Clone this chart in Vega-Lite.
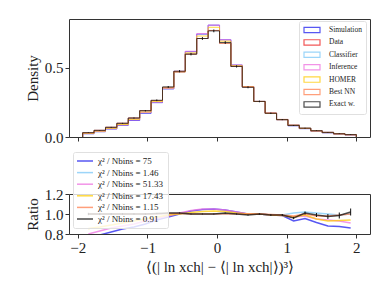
{
  "$schema": "https://vega.github.io/schema/vega-lite/v6.json",
  "background": "white",
  "padding": {"left": 24, "top": 18, "right": 19, "bottom": 5},
  "config": {
    "font": "Liberation Serif",
    "view": {"stroke": "#333333", "strokeWidth": 1},
    "axis": {"grid": false, "domain": false, "tickColor": "#333333", "tickSize": 4, "labelFont": "Liberation Serif", "labelFontSize": 15, "labelColor": "#222222", "titleFont": "Liberation Serif", "titleFontSize": 15, "titleFontWeight": "normal", "titleColor": "#222222", "labelPadding": 2, "labelOverlap": false},
    "axisY": {"labelOverlap": false},
    "axisQuantitative": {"labelOverlap": false},
    "legend": {"labelFont": "Liberation Serif", "labelColor": "#222222"}
  },
  "datasets": {
    "hist": [
      {"i": 0, "x": -1.93, "sim": 0, "data": 0, "cls": 0, "inf": 0, "homer": 0, "nn": 0, "exact": 0},
      {"i": 1, "x": -1.93, "sim": 0.0233, "data": 0.031, "cls": 0.031, "inf": 0.0248, "homer": 0.0265, "nn": 0.031, "exact": 0.031},
      {"i": 2, "x": -1.766, "sim": 0.0379, "data": 0.048, "cls": 0.048, "inf": 0.0398, "homer": 0.0418, "nn": 0.048, "exact": 0.048},
      {"i": 3, "x": -1.602, "sim": 0.0574, "data": 0.07, "cls": 0.07, "inf": 0.0602, "homer": 0.0623, "nn": 0.07, "exact": 0.07},
      {"i": 4, "x": -1.439, "sim": 0.0842, "data": 0.099, "cls": 0.099, "inf": 0.0871, "homer": 0.0901, "nn": 0.099, "exact": 0.099},
      {"i": 5, "x": -1.275, "sim": 0.1192, "data": 0.137, "cls": 0.137, "inf": 0.1233, "homer": 0.1274, "nn": 0.137, "exact": 0.137},
      {"i": 6, "x": -1.111, "sim": 0.171, "data": 0.19, "cls": 0.19, "inf": 0.1767, "homer": 0.1805, "nn": 0.19, "exact": 0.19},
      {"i": 7, "x": -0.947, "sim": 0.2482, "data": 0.264, "cls": 0.264, "inf": 0.2521, "homer": 0.2561, "nn": 0.264, "exact": 0.2653},
      {"i": 8, "x": -0.783, "sim": 0.3473, "data": 0.358, "cls": 0.3598, "inf": 0.3508, "homer": 0.3544, "nn": 0.3598, "exact": 0.3616},
      {"i": 9, "x": -0.62, "sim": 0.471, "data": 0.471, "cls": 0.4734, "inf": 0.4757, "homer": 0.471, "nn": 0.4734, "exact": 0.4757},
      {"i": 10, "x": -0.456, "sim": 0.617, "data": 0.599, "cls": 0.599, "inf": 0.62, "homer": 0.608, "nn": 0.599, "exact": 0.599},
      {"i": 11, "x": -0.292, "sim": 0.744, "data": 0.712, "cls": 0.712, "inf": 0.7476, "homer": 0.7298, "nn": 0.712, "exact": 0.712},
      {"i": 12, "x": -0.128, "sim": 0.8085, "data": 0.77, "cls": 0.77, "inf": 0.8085, "homer": 0.7931, "nn": 0.77, "exact": 0.767},
      {"i": 13, "x": 0.036, "sim": 0.703, "data": 0.676, "cls": 0.676, "inf": 0.703, "homer": 0.6929, "nn": 0.676, "exact": 0.6828},
      {"i": 14, "x": 0.199, "sim": 0.5202, "data": 0.51, "cls": 0.51, "inf": 0.5202, "homer": 0.5151, "nn": 0.51, "exact": 0.51},
      {"i": 15, "x": 0.363, "sim": 0.363, "data": 0.363, "cls": 0.363, "inf": 0.363, "homer": 0.363, "nn": 0.363, "exact": 0.3594},
      {"i": 16, "x": 0.527, "sim": 0.257, "data": 0.257, "cls": 0.257, "inf": 0.257, "homer": 0.257, "nn": 0.257, "exact": 0.257},
      {"i": 17, "x": 0.691, "sim": 0.1713, "data": 0.173, "cls": 0.1713, "inf": 0.1713, "homer": 0.1713, "nn": 0.1721, "exact": 0.1713},
      {"i": 18, "x": 0.855, "sim": 0.1251, "data": 0.127, "cls": 0.1257, "inf": 0.1251, "homer": 0.1251, "nn": 0.1257, "exact": 0.1257},
      {"i": 19, "x": 1.018, "sim": 0.0809, "data": 0.087, "cls": 0.0879, "inf": 0.0844, "homer": 0.0844, "nn": 0.0853, "exact": 0.0835},
      {"i": 20, "x": 1.182, "sim": 0.0602, "data": 0.063, "cls": 0.0643, "inf": 0.0617, "homer": 0.0624, "nn": 0.063, "exact": 0.0636},
      {"i": 21, "x": 1.346, "sim": 0.0421, "data": 0.046, "cls": 0.0465, "inf": 0.0437, "homer": 0.0437, "nn": 0.0451, "exact": 0.0455},
      {"i": 22, "x": 1.51, "sim": 0.0299, "data": 0.034, "cls": 0.034, "inf": 0.032, "homer": 0.0316, "nn": 0.0333, "exact": 0.0332},
      {"i": 23, "x": 1.674, "sim": 0.021, "data": 0.024, "cls": 0.0238, "inf": 0.0223, "homer": 0.0224, "nn": 0.0238, "exact": 0.0236},
      {"i": 24, "x": 1.837, "sim": 0.0146, "data": 0.017, "cls": 0.017, "inf": 0.0155, "homer": 0.016, "nn": 0.017, "exact": 0.0173},
      {"i": 25, "x": 2.001, "sim": 0.0146, "data": 0.017, "cls": 0.017, "inf": 0.0155, "homer": 0.016, "nn": 0.017, "exact": 0.0173},
      {"i": 26, "x": 2.001, "sim": 0, "data": 0, "cls": 0, "inf": 0, "homer": 0, "nn": 0, "exact": 0}
    ],
    "ratio": [
      {"x": -1.848, "sim": 0.75, "cls": 1.0, "inf": 0.8, "homer": 0.855, "nn": 1.0, "exact": 1.0, "err": 0.012, "dens": 0.031, "derr": 0.002},
      {"x": -1.684, "sim": 0.79, "cls": 1.0, "inf": 0.83, "homer": 0.87, "nn": 1.0, "exact": 1.0, "err": 0.011, "dens": 0.048, "derr": 0.002},
      {"x": -1.52, "sim": 0.82, "cls": 1.0, "inf": 0.86, "homer": 0.89, "nn": 1.0, "exact": 1.0, "err": 0.01, "dens": 0.07, "derr": 0.003},
      {"x": -1.357, "sim": 0.85, "cls": 1.0, "inf": 0.88, "homer": 0.91, "nn": 1.0, "exact": 1.0, "err": 0.009, "dens": 0.099, "derr": 0.003},
      {"x": -1.193, "sim": 0.87, "cls": 1.0, "inf": 0.9, "homer": 0.93, "nn": 1.0, "exact": 1.0, "err": 0.008, "dens": 0.137, "derr": 0.004},
      {"x": -1.029, "sim": 0.9, "cls": 1.0, "inf": 0.93, "homer": 0.95, "nn": 1.0, "exact": 1.0, "err": 0.007, "dens": 0.19, "derr": 0.005},
      {"x": -0.865, "sim": 0.94, "cls": 1.0, "inf": 0.955, "homer": 0.97, "nn": 1.0, "exact": 1.005, "err": 0.006, "dens": 0.2653, "derr": 0.006},
      {"x": -0.701, "sim": 0.97, "cls": 1.005, "inf": 0.98, "homer": 0.99, "nn": 1.005, "exact": 1.01, "err": 0.005, "dens": 0.3616, "derr": 0.007},
      {"x": -0.538, "sim": 1.0, "cls": 1.005, "inf": 1.01, "homer": 1.0, "nn": 1.005, "exact": 1.01, "err": 0.005, "dens": 0.4757, "derr": 0.008},
      {"x": -0.374, "sim": 1.03, "cls": 1.0, "inf": 1.035, "homer": 1.015, "nn": 1.0, "exact": 1.0, "err": 0.004, "dens": 0.599, "derr": 0.009},
      {"x": -0.21, "sim": 1.045, "cls": 1.0, "inf": 1.05, "homer": 1.025, "nn": 1.0, "exact": 1.0, "err": 0.004, "dens": 0.712, "derr": 0.01},
      {"x": -0.046, "sim": 1.05, "cls": 1.0, "inf": 1.05, "homer": 1.03, "nn": 1.0, "exact": 1.0, "err": 0.004, "dens": 0.767, "derr": 0.01},
      {"x": 0.118, "sim": 1.04, "cls": 1.0, "inf": 1.04, "homer": 1.025, "nn": 1.0, "exact": 1.01, "err": 0.004, "dens": 0.6828, "derr": 0.01},
      {"x": 0.281, "sim": 1.02, "cls": 1.0, "inf": 1.02, "homer": 1.01, "nn": 1.0, "exact": 1.0, "err": 0.005, "dens": 0.51, "derr": 0.008},
      {"x": 0.445, "sim": 1.0, "cls": 1.0, "inf": 1.0, "homer": 1.0, "nn": 1.0, "exact": 0.99, "err": 0.005, "dens": 0.3594, "derr": 0.007},
      {"x": 0.609, "sim": 1.0, "cls": 1.0, "inf": 1.0, "homer": 1.0, "nn": 1.0, "exact": 1.0, "err": 0.006, "dens": 0.257, "derr": 0.006},
      {"x": 0.773, "sim": 0.99, "cls": 0.99, "inf": 0.99, "homer": 0.99, "nn": 0.995, "exact": 0.99, "err": 0.008, "dens": 0.1713, "derr": 0.005},
      {"x": 0.937, "sim": 0.985, "cls": 0.99, "inf": 0.985, "homer": 0.985, "nn": 0.99, "exact": 0.99, "err": 0.01, "dens": 0.1257, "derr": 0.004},
      {"x": 1.1, "sim": 0.93, "cls": 1.01, "inf": 0.97, "homer": 0.97, "nn": 0.98, "exact": 0.96, "err": 0.012, "dens": 0.0835, "derr": 0.003},
      {"x": 1.264, "sim": 0.955, "cls": 1.02, "inf": 0.98, "homer": 0.99, "nn": 1.0, "exact": 1.01, "err": 0.015, "dens": 0.0636, "derr": 0.003},
      {"x": 1.428, "sim": 0.915, "cls": 1.01, "inf": 0.95, "homer": 0.95, "nn": 0.98, "exact": 0.99, "err": 0.02, "dens": 0.0455, "derr": 0.002},
      {"x": 1.592, "sim": 0.88, "cls": 1.0, "inf": 0.94, "homer": 0.93, "nn": 0.98, "exact": 0.975, "err": 0.025, "dens": 0.0332, "derr": 0.002},
      {"x": 1.756, "sim": 0.875, "cls": 0.99, "inf": 0.93, "homer": 0.935, "nn": 0.99, "exact": 0.985, "err": 0.03, "dens": 0.0236, "derr": 0.002},
      {"x": 1.919, "sim": 0.86, "cls": 1.0, "inf": 0.91, "homer": 0.94, "nn": 1.0, "exact": 1.02, "err": 0.035, "dens": 0.0173, "derr": 0.002}
    ]
  },
  "bounds": "flush",
  "spacing": 57,
  "vconcat": [
    {
      "width": 301,
      "height": 118,
      "layer": [
        {
          "data": {"name": "hist"},
          "transform": [{"fold": ["sim", "data", "cls", "inf", "homer", "nn", "exact"], "as": ["series", "density"]}],
          "mark": {"type": "line", "interpolate": "step-after", "strokeWidth": 1, "opacity": 0.75, "clip": true},
          "encoding": {
            "x": {"field": "x", "type": "quantitative", "title": null, "scale": {"domain": [-2.126, 2.197], "nice": false, "zero": false}, "axis": {"values": [-2, -1, 0, 1, 2], "labels": false}},
            "y": {"field": "density", "type": "quantitative", "title": "Density", "scale": {"domain": [0, 0.853], "nice": false}, "axis": {"values": [0, 0.5], "format": ".1f", "titlePadding": 4}},
            "color": {"field": "series", "type": "nominal", "scale": {"domain": ["sim", "data", "cls", "inf", "homer", "nn", "exact"], "range": ["#1f1fee", "#ee2020", "#7cc8f8", "#ee70e0", "#ffcc00", "#ff8050", "#111111"]},
              "legend": {"title": null, "orient": "none", "legendX": 230, "legendY": 2, "symbolType": "M-2,-0.66H2V0.66H-2Z", "symbolSize": 64, "symbolStrokeWidth": 1.2, "symbolOpacity": 0.75, "symbolOffset": 4, "labelFontSize": 7.5, "rowPadding": 0.4, "labelOffset": 12, "padding": 4, "fillColor": "rgba(255,255,255,0.8)", "strokeColor": "#e0e0e0", "cornerRadius": 2,
                "labelExpr": "{'sim':'Simulation','data':'Data','cls':'Classifier','inf':'Inference','homer':'HOMER','nn':'Best NN','exact':'Exact w.'}[datum.label]"}},
            "order": {"field": "i", "type": "quantitative"}
          }
        },
        {
          "data": {"name": "ratio"},
          "mark": {"type": "errorbar", "color": "#111111", "thickness": 1},
          "encoding": {
            "x": {"field": "x", "type": "quantitative", "title": null},
            "y": {"field": "dens", "type": "quantitative", "title": "Density"},
            "yError": {"field": "derr"}
          }
        }
      ]
    },
    {
      "width": 301,
      "height": 40,
      "layer": [
        {
          "data": {"name": "ratio"},
          "transform": [{"fold": ["sim", "cls", "inf", "homer", "nn", "exact"], "as": ["key", "ratio"]}],
          "mark": {"type": "line", "strokeWidth": 1.5, "opacity": 0.75, "clip": true},
          "encoding": {
            "x": {"field": "x", "type": "quantitative", "title": "⟨(| ln xch| − ⟨| ln xch|⟩)³⟩", "scale": {"domain": [-2.126, 2.197], "nice": false, "zero": false}, "axis": {"values": [-2, -1, 0, 1, 2], "format": "d", "titlePadding": 4}},
            "y": {"field": "ratio", "type": "quantitative", "title": "Ratio", "scale": {"domain": [0.8, 1.2], "nice": false, "zero": false}, "axis": {"values": [0.8, 1.0, 1.2], "format": ".1f", "labelOverlap": false, "labelBound": false, "titlePadding": 4}},
            "color": {"field": "key", "type": "nominal", "scale": {"domain": ["sim", "cls", "inf", "homer", "nn", "exact"], "range": ["#1f1fee", "#7cc8f8", "#ee70e0", "#ffcc00", "#ff8050", "#111111"]},
              "legend": {"title": null, "orient": "none", "legendX": 4, "legendY": -42, "symbolType": "M-2,0H2", "symbolSize": 64, "symbolStrokeWidth": 1.5, "symbolOffset": 3, "labelFontSize": 9, "rowPadding": 1.6, "labelOffset": 8, "padding": 4, "fillColor": "rgba(255,255,255,0.8)", "strokeColor": "#e0e0e0", "cornerRadius": 2,
                "labelExpr": "{'sim':'χ² / Nbins = 75','cls':'χ² / Nbins = 1.46','inf':'χ² / Nbins = 51.33','homer':'χ² / Nbins = 17.43','nn':'χ² / Nbins = 1.15','exact':'χ² / Nbins = 0.91'}[datum.label]"}}
          }
        },
        {
          "data": {"name": "ratio"},
          "mark": {"type": "errorbar", "color": "#111111", "thickness": 1, "clip": true},
          "encoding": {
            "x": {"field": "x", "type": "quantitative", "title": "⟨(| ln xch| − ⟨| ln xch|⟩)³⟩", "axis": {"values": [-2, -1, 0, 1, 2], "format": "d", "titlePadding": 4}},
            "y": {"field": "exact", "type": "quantitative", "title": "Ratio", "axis": {"values": [0.8, 1.0, 1.2], "format": ".1f", "labelOverlap": false, "labelBound": false, "titlePadding": 4}},
            "yError": {"field": "err"}
          }
        }
      ]
    }
  ],
  "resolve": {"scale": {"color": "independent"}, "legend": {"color": "independent"}}
}
